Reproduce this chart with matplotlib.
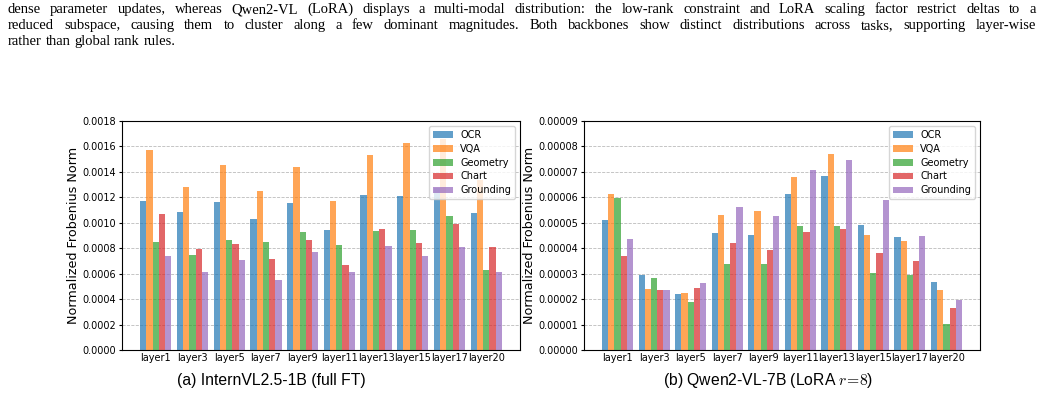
import numpy as np
import matplotlib
matplotlib.use("Agg")
import matplotlib.pyplot as plt
from matplotlib.ticker import FormatStrFormatter

plt.rcParams['mathtext.fontset'] = 'cm'

layers = ["layer1", "layer3", "layer5", "layer7", "layer9",
          "layer11", "layer13", "layer15", "layer17", "layer20"]
tasks = ["OCR", "VQA", "Geometry", "Chart", "Grounding"]

# (a) InternVL2.5-1B, full fine-tuning
intern_ocr = [0.001175, 0.001088, 0.001167, 0.001033, 0.001159, 0.000946, 0.001222, 0.001214, 0.001277, 0.001080]
intern_vqa = [0.001569, 0.001285, 0.001458, 0.001253, 0.001435, 0.001175, 0.001529, 0.001624, 0.001655, 0.001340]
intern_geo = [0.000851, 0.000749, 0.000867, 0.000851, 0.000930, 0.000828, 0.000938, 0.000946, 0.001056, 0.000631]
intern_chart = [0.001072, 0.000796, 0.000836, 0.000717, 0.000867, 0.000670, 0.000954, 0.000844, 0.000993, 0.000812]
intern_ground = [0.000741, 0.000615, 0.000709, 0.000552, 0.000773, 0.000615, 0.000820, 0.000741, 0.000812, 0.000615]

# (b) Qwen2-VL-7B, LoRA r=8
qwen_ocr = [5.10e-5, 2.94e-5, 2.20e-5, 4.59e-5, 4.51e-5, 6.12e-5, 6.83e-5, 4.90e-5, 4.43e-5, 2.67e-5]
qwen_vqa = [6.12e-5, 2.39e-5, 2.24e-5, 5.30e-5, 5.45e-5, 6.79e-5, 7.69e-5, 4.51e-5, 4.28e-5, 2.35e-5]
qwen_geo = [5.97e-5, 2.83e-5, 1.88e-5, 3.37e-5, 3.37e-5, 4.87e-5, 4.87e-5, 3.02e-5, 2.94e-5, 1.02e-5]
qwen_chart = [3.69e-5, 2.35e-5, 2.43e-5, 4.20e-5, 3.92e-5, 4.63e-5, 4.75e-5, 3.81e-5, 3.49e-5, 1.65e-5]
qwen_ground = [4.36e-5, 2.35e-5, 2.63e-5, 5.61e-5, 5.26e-5, 7.06e-5, 7.46e-5, 5.89e-5, 4.47e-5, 1.96e-5]

colors = ["#1f77b4", "#ff7f0e", "#2ca02c", "#d62728", "#9467bd"]

fig = plt.figure(figsize=(10.42, 4.04), dpi=100)
W, H = 1042, 404


def draw_panel(ax, series, ymax, fmt):
    x = np.arange(len(layers))
    w = 0.17
    for i, (vals, name) in enumerate(zip(series, tasks)):
        ax.bar(x + (i - 2) * w, vals, w, color=colors[i], alpha=0.7, label=name)
    ax.set_xticks(x)
    ax.set_xticklabels(layers, fontsize=7)
    ax.set_ylim(0, ymax)
    ax.yaxis.set_major_formatter(FormatStrFormatter(fmt))
    ax.tick_params(axis='y', labelsize=7, length=2.5, pad=1.5)
    ax.tick_params(axis='x', length=0, pad=2)
    ax.set_ylabel("Normalized Frobenius Norm", fontsize=9.2, labelpad=2)
    ax.grid(axis='y', linestyle='--', color='#bbbbbb', linewidth=0.6)
    ax.set_axisbelow(True)
    ax.legend(loc='upper right', fontsize=7, framealpha=0.8, labelspacing=0.4)


ax1 = fig.add_axes([122 / W, 54 / H, 398 / W, 229 / H])
draw_panel(ax1, [intern_ocr, intern_vqa, intern_geo, intern_chart, intern_ground], 0.0018, '%.4f')
ax2 = fig.add_axes([584 / W, 54 / H, 396 / W, 229 / H])
draw_panel(ax2, [qwen_ocr, qwen_vqa, qwen_geo, qwen_chart, qwen_ground], 0.00009, '%.5f')

fig.text(271 / W, 1 - 381 / H, "(a) InternVL2.5-1B (full FT)", ha='center', va='center',
         fontsize=11.3, family='Liberation Sans')
fig.text(768 / W, 1 - 381 / H, "(b) Qwen2-VL-7B (LoRA $r\\!=\\!8$)", ha='center', va='center',
         fontsize=11.3, family='Liberation Sans')

# paragraph text above the figure (justified by hand)
lines = [
    "dense parameter updates, whereas Qwen2-VL (LoRA) displays a multi-modal distribution: the low-rank constraint and LoRA scaling factor restrict deltas to a",
    "reduced subspace, causing them to cluster along a few dominant magnitudes. Both backbones show distinct distributions across tasks, supporting layer-wise",
    "rather than global rank rules.",
]
baselines = [13, 29, 45]
r = fig.canvas.get_renderer()
probe = fig.text(0, 0, lines[0], fontsize=10, family='Liberation Serif')
pw = probe.get_window_extent(r).width
probe.remove()
psize = 10 * 1028 / pw * 0.9
sp = fig.text(0, 0, "a a", fontsize=psize, family='Liberation Serif')
sp2 = fig.text(0, 0, "aa", fontsize=psize, family='Liberation Serif')
space = sp.get_window_extent(r).width - sp2.get_window_extent(r).width
sp.remove()
sp2.remove()
for k, (line, yb) in enumerate(zip(lines, baselines)):
    words = line.split()
    texts = [fig.text(0, 1 - yb / H, wd, fontsize=psize, family='Liberation Serif', va='baseline')
             for wd in words]
    widths = [t.get_window_extent(r).width for t in texts]
    if k < 2:
        gap = (1036 - 8 - sum(widths)) / (len(words) - 1)
    else:
        gap = space
    xp = 8
    for t, wd in zip(texts, widths):
        t.set_x(xp / W)
        xp += wd + gap

fig.savefig("out.png", dpi=100)
